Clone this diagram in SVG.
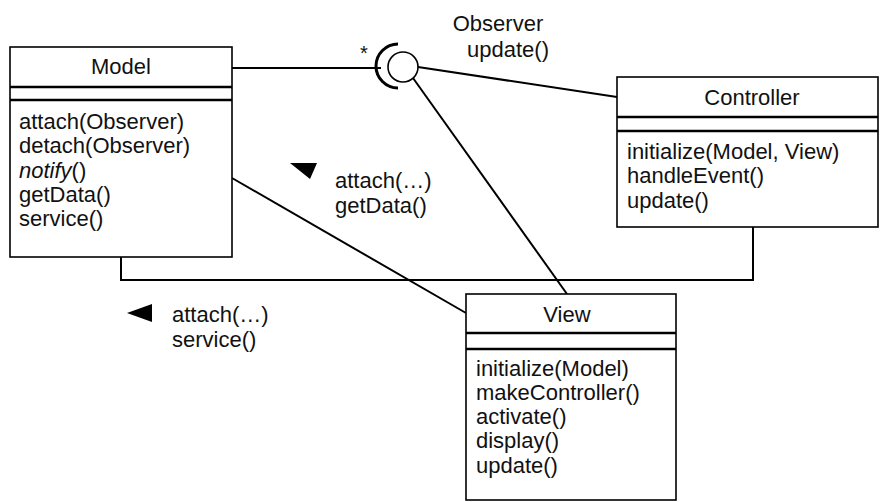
<svg xmlns="http://www.w3.org/2000/svg" width="880" height="502" viewBox="0 0 880 502">
<style>
text{font-family:"Liberation Sans",Arial,sans-serif;font-size:22px;fill:#111}
.box{fill:#fff;stroke:#000;stroke-width:1.6}
.div{stroke:#000;stroke-width:2.5}
.con{fill:none;stroke:#000;stroke-width:2}
.mid{text-anchor:middle}
</style>
<rect width="880" height="502" fill="#fff"/>
<g id="connectors">
<polyline class="con" points="121,257 121,280 753,280 753,227"/>
<line class="con" x1="232" y1="68" x2="381" y2="68"/>
<line class="con" x1="418" y1="67" x2="617" y2="97"/>
<line class="con" x1="413" y1="78" x2="567" y2="294"/>
<line class="con" x1="232" y1="178" x2="466" y2="313"/>
<path d="M398,44 A22,22 0 0 0 398,88" fill="none" stroke="#000" stroke-width="3"/>
<circle cx="403" cy="67" r="15" fill="#fff" stroke="#000" stroke-width="1.6"/>
<text x="364" y="60" class="mid" style="font-size:20px">*</text>
<text x="498" y="31" class="mid">Observer</text>
<text x="508" y="57" class="mid">update()</text>
<polygon points="290,163 317,163 310,179" fill="#000"/>
<text x="335" y="188">attach(…)</text>
<text x="335" y="213">getData()</text>
<polygon points="127,313 152,304 152,322" fill="#000"/>
<text x="172" y="322">attach(…)</text>
<text x="172" y="347">service()</text>
</g>
<g id="model">
<rect class="box" x="10" y="47" width="222" height="210"/>
<line class="div" x1="10" y1="87" x2="232" y2="87"/>
<line class="div" x1="10" y1="100" x2="232" y2="100"/>
<text x="121" y="74" class="mid">Model</text>
<text x="19" y="129">attach(Observer)</text>
<text x="19" y="153">detach(Observer)</text>
<text x="19" y="178"><tspan font-style="italic">notify</tspan>()</text>
<text x="19" y="202">getData()</text>
<text x="19" y="226">service()</text>
</g>
<g id="controller">
<rect class="box" x="617" y="77" width="261" height="150"/>
<line class="div" x1="617" y1="117" x2="878" y2="117"/>
<line class="div" x1="617" y1="131" x2="878" y2="131"/>
<text x="752" y="105" class="mid">Controller</text>
<text x="627" y="159">initialize(Model, View)</text>
<text x="627" y="183">handleEvent()</text>
<text x="627" y="208">update()</text>
</g>
<g id="view">
<rect class="box" x="466" y="294" width="210" height="206"/>
<line class="div" x1="466" y1="333" x2="676" y2="333"/>
<line class="div" x1="466" y1="349" x2="676" y2="349"/>
<text x="567" y="322" class="mid">View</text>
<text x="476" y="376">initialize(Model)</text>
<text x="476" y="400">makeController()</text>
<text x="476" y="424">activate()</text>
<text x="476" y="448">display()</text>
<text x="476" y="473">update()</text>
</g>
</svg>
